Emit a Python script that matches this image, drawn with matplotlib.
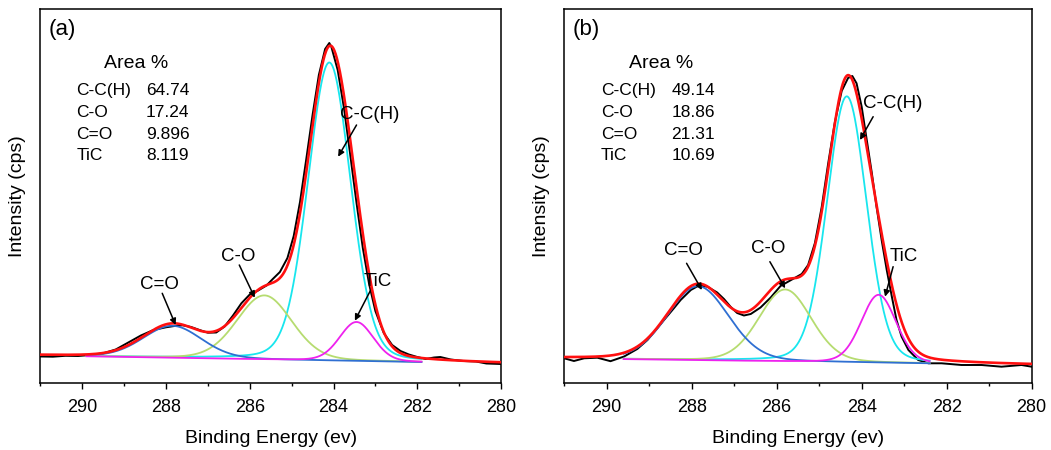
import numpy as np
import matplotlib.pyplot as plt

plt.rcParams['font.family'] = ['Liberation Sans', 'DejaVu Sans']

# ---------------- panel (a) ----------------
# measured C1s spectrum (binding energy in eV, intensity in arbitrary cps)
energy_a = [291.0, 290.7, 290.4, 290.1, 289.8, 289.5, 289.2, 288.9, 288.6, 288.3,
            288.0, 287.8, 287.6, 287.4, 287.2, 287.0, 286.8, 286.6, 286.4, 286.2,
            286.0, 285.8, 285.6, 285.45, 285.28, 285.1, 284.95, 284.8, 284.65, 284.5,
            284.35, 284.2, 284.1, 284.05, 283.9, 283.75, 283.6, 283.45, 283.3, 283.15,
            283.0, 282.8, 282.6, 282.4, 282.2, 282.0, 281.8, 281.6, 281.45, 281.2,
            280.9, 280.6, 280.35, 280.0]
counts_a = [26.5, 26.3, 27.2, 27.0, 28.0, 29.7, 33.5, 40.5, 47.5, 53.0,
            55.7, 57.0, 57.7, 56.0, 53.0, 50.3, 50.5, 56.5, 67.5, 79.7,
            88.5, 92.5, 97.5, 104.0, 111.0, 125.0, 147.0, 181.0, 224.0, 268.0,
            308.0, 334.0, 340.0, 336.0, 313.0, 275.0, 228.0, 180.0, 135.0, 99.0,
            72.0, 50.0, 38.0, 32.0, 28.5, 26.0, 24.0, 25.5, 26.0, 23.5,
            22.0, 21.5, 19.5, 19.0]
# fitted components: C-C(H), C-O, C=O, TiC
center_a = [284.10, 285.65, 287.85, 283.45]
height_a = [298, 64, 32, 39]
fwhm_a = [1.20, 1.55, 1.65, 0.95]
area_a = ['64.74', '17.24', '9.896', '8.119']
bg_a = [27.5, 19.5]          # background at 291 eV and 280 eV
fit_range_a = [289.9, 281.9]

# ---------------- panel (b) ----------------
energy_b = [291.0, 290.77, 290.53, 290.22, 289.91, 289.59, 289.28, 289.04, 288.81, 288.65,
            288.42, 288.26, 288.02, 287.83, 287.63, 287.40, 287.24, 287.08, 286.93, 286.77,
            286.61, 286.38, 286.14, 285.91, 285.59, 285.41, 285.26, 285.10, 284.94, 284.79,
            284.63, 284.47, 284.32, 284.22, 284.12, 284.00, 283.88, 283.76, 283.65, 283.53,
            283.41, 283.29, 283.18, 283.06, 282.90, 282.67, 282.43, 282.12, 281.65, 281.18,
            280.71, 280.24, 280.0]
counts_b = [24.7, 22.0, 24.7, 25.3, 21.8, 26.5, 34.0, 43.0, 54.7, 63.0,
            74.7, 83.0, 93.0, 97.5, 96.3, 90.5, 84.0, 76.0, 70.0, 67.5,
            69.0, 75.5, 85.5, 97.0, 104.7, 109.0, 118.0, 140.0, 176.0, 219.0,
            261.0, 292.0, 305.0, 307.0, 299.7, 276.3, 243.0, 209.7, 176.3, 143.0,
            113.0, 86.3, 63.0, 46.3, 33.0, 23.0, 19.7, 19.7, 18.0, 18.0,
            16.3, 18.0, 16.3]
center_b = [284.35, 285.80, 287.85, 283.60]
height_b = [266, 72, 74, 68]
fwhm_b = [1.10, 1.45, 1.70, 0.97]
area_b = ['49.14', '18.86', '21.31', '10.69']
bg_b = [24.7, 18.0]
fit_range_b = [289.6, 282.4]

names = ['C-C(H)', 'C-O', 'C=O', 'TiC']
comp_colors = ['#18e6ee', '#b6dc70', '#2f6fd2', '#ee22ee']
eta = 0.15   # Lorentzian fraction of the pseudo-Voigt line shape


def peak(x, c, h, w):
    g = np.exp(-4 * np.log(2) * (x - c) ** 2 / w ** 2)
    l = 1.0 / (1 + 4 * (x - c) ** 2 / w ** 2)
    return h * ((1 - eta) * g + eta * l)


def draw_panel(ax, energy, counts, center, height, fwhm, bg, fit_range,
               area, tag, notes):
    x = np.linspace(291, 280, 1101)
    base = bg[1] + (bg[0] - bg[1]) * (x - 280) / 11.0
    comps = [peak(x, c, h, w) for c, h, w in zip(center, height, fwhm)]
    envelope = base + np.sum(comps, axis=0)

    ax.plot(energy, counts, color='black', lw=1.4, zorder=2)
    inside = (x <= fit_range[0]) & (x >= fit_range[1])
    for comp, col in zip(comps, comp_colors):
        ax.plot(x[inside], (base + comp)[inside], color=col, lw=1.3, zorder=3)
    ax.plot(x, envelope, color='#ff1010', lw=1.9, zorder=4)

    ax.set_xlim(291, 280)
    ax.set_ylim(0, 374)
    ax.set_xticks(np.arange(290, 279, -2))
    ax.set_xticks(np.arange(291, 280, -2), minor=True)
    ax.set_yticks([])
    ax.tick_params(axis='x', which='major', direction='out', length=4.5,
                   width=1.0, labelsize=13, pad=7, top=False)
    ax.tick_params(axis='x', which='minor', direction='out', length=2.5,
                   width=1.0, top=False)
    for sp in ax.spines.values():
        sp.set_linewidth(1.1)
    ax.set_xlabel('Binding Energy (ev)', fontsize=14, labelpad=10)
    ax.set_ylabel('Intensity (cps)', fontsize=14, labelpad=10)

    ax.text(0.018, 0.944, tag, transform=ax.transAxes, fontsize=16,
            ha='left', va='center')
    ax.text(0.138, 0.855, 'Area %', transform=ax.transAxes, fontsize=14,
            ha='left', va='center')
    rows_y = [0.781, 0.722, 0.665, 0.609]
    for nm, val, yy in zip(names, area, rows_y):
        ax.text(0.078, yy, nm, transform=ax.transAxes, fontsize=12.5,
                ha='left', va='center')
        ax.text(0.229, yy, val, transform=ax.transAxes, fontsize=12.5,
                ha='left', va='center')

    for label, txt_xy, start, tip in notes:
        ax.text(txt_xy[0], txt_xy[1], label, fontsize=13.5, ha='center',
                va='center', zorder=6)
        ax.annotate('', xy=tip, xytext=start, zorder=6,
                    arrowprops=dict(arrowstyle='-|>', color='black', lw=1.1,
                                    mutation_scale=9, shrinkA=0, shrinkB=0))


notes_a = [('C=O', (288.15, 98), (288.09, 89.7), (287.77, 58)),
           ('C-O', (286.28, 126.3), (286.25, 118), (285.88, 85.3)),
           ('C-C(H)', (283.13, 268), (283.45, 258), (283.89, 226.3)),
           ('TiC', (282.94, 101.3), (283.12, 92.3), (283.49, 62.3))]
notes_b = [('C=O', (288.20, 132.3), (288.12, 119.7), (287.76, 93)),
           ('C-O', (286.20, 134.7), (286.16, 121.3), (285.80, 94.7)),
           ('C-C(H)', (283.26, 279), (283.73, 266.3), (284.04, 243)),
           ('TiC', (283.02, 126.3), (283.26, 116.3), (283.45, 86.3))]

fig = plt.figure(figsize=(10.51, 4.5), dpi=100)
ax_a = fig.add_axes([0.0384, 0.1489, 0.4383, 0.8311])
ax_b = fig.add_axes([0.5368, 0.1489, 0.4448, 0.8311])

draw_panel(ax_a, energy_a, counts_a, center_a, height_a, fwhm_a, bg_a,
           fit_range_a, area_a, '(a)', notes_a)
draw_panel(ax_b, energy_b, counts_b, center_b, height_b, fwhm_b, bg_b,
           fit_range_b, area_b, '(b)', notes_b)

fig.savefig('out.png', dpi=100)
